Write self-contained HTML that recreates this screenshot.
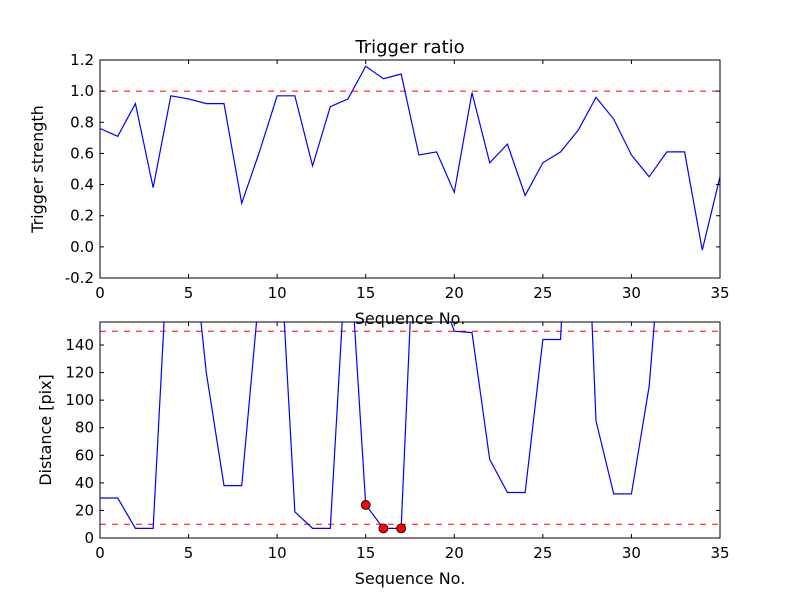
<!DOCTYPE html>
<html><head><meta charset="utf-8">
<style>
body{margin:0;background:#fff;}
svg text{font-family:"DejaVu Sans","Liberation Sans",sans-serif;fill:#000;}
</style></head>
<body>
<svg id="chart" width="800" height="600" viewBox="0 0 800 600" xmlns="http://www.w3.org/2000/svg">
<rect width="800" height="600" fill="#fff"/>
<defs>
<clipPath id="clipTop"><rect x="100" y="60" width="620" height="218"/></clipPath>
<clipPath id="clipBot"><rect x="100" y="322" width="620" height="216"/></clipPath>
</defs>
<g id="top"></g>
<g id="bot"></g>
</svg>
<script>
const seqTop = [0,1,2,3,4,5,6,7,8,9,10,11,12,13,14,15,16,17,18,19,20,21,22,23,24,25,26,27,28,29,30,31,32,33,34,35];
const strength = [0.76,0.71,0.92,0.38,0.97,0.95,0.92,0.92,0.28,0.61,0.97,0.97,0.52,0.90,0.95,1.16,1.08,1.11,0.59,0.61,0.35,0.99,0.54,0.66,0.33,0.54,0.61,0.75,0.96,0.82,0.59,0.45,0.61,0.61,-0.02,0.45];
const distance = [29,29,7,7,250,243,120,38,38,180,250,19,7,7,230,24,7,7,300,185,150,149,57,33,33,144,144,400,85,32,32,110,267,300,300,300];
const markedSeq = [15,16,17];
const markedDist = [24,7,7];
const xTicks = [0,5,10,15,20,25,30,35];
const topYTicks = [-0.2,0.0,0.2,0.4,0.6,0.8,1.0,1.2];
const botYTicks = [0,20,40,60,80,100,120,140];
const topThreshold = [1.0];
const botThresholds = [10,150];

const NS="http://www.w3.org/2000/svg";
function mk(parent,tag,attrs,text){const e=document.createElementNS(NS,tag);for(const k in attrs)e.setAttribute(k,attrs[k]);if(text!==undefined)e.textContent=text;parent.appendChild(e);return e;}
const L=100,R=720;
const xs=v=>L+(v-0)/(35-0)*(R-L);
function axes(g,top,bottom,ymin,ymax,yticks,fmt,clip,ylabel,title,name){
  const ys=v=>bottom-(v-ymin)/(ymax-ymin)*(bottom-top);
  return {ys,draw(){
    const frame=mk(g,'rect',{x:L,y:top,width:R-L,height:bottom-top,fill:'none',stroke:'#000','stroke-width':1});
    
    
    xTicks.forEach(t=>{const x=xs(t);
      mk(g,'line',{x1:x,x2:x,y1:bottom,y2:bottom-4,stroke:'#000'});
      mk(g,'line',{x1:x,x2:x,y1:top,y2:top+4,stroke:'#000'});
      const tl=mk(g,'text',{x:x,y:bottom+20,'text-anchor':'middle','font-size':15},String(t));
      
      
    });
    yticks.forEach(t=>{const y=ys(t);
      mk(g,'line',{x1:L,x2:L+4,y1:y,y2:y,stroke:'#000'});
      mk(g,'line',{x1:R,x2:R-4,y1:y,y2:y,stroke:'#000'});
      const tl=mk(g,'text',{x:L-6,y:y+5,'text-anchor':'end','font-size':15},fmt(t));
      
      
    });
    const xl=mk(g,'text',{x:(L+R)/2,y:bottom+46,'text-anchor':'middle','font-size':16},'Sequence No.');
    
    
    const cy=(top+bottom)/2, lx=name==='top'?43:51;
    const yl=mk(g,'text',{x:lx,y:cy,'text-anchor':'middle','font-size':16,transform:`rotate(-90 ${lx} ${cy})`},ylabel);
    
    
    if(title){const tt=mk(g,'text',{x:(L+R)/2,y:top-7,'text-anchor':'middle','font-size':18},title);
      
      }
  }};
}
// Top
const gT=document.getElementById('top');
const aT=axes(gT,60,278,-0.2,1.2,topYTicks,v=>v.toFixed(1),'clipTop','Trigger strength','Trigger ratio','top');
const cT=mk(gT,'g',{'clip-path':'url(#clipTop)'});
topThreshold.forEach(v=>{const l=mk(cT,'line',{x1:L,x2:R,y1:aT.ys(v),y2:aT.ys(v),stroke:'#f00','stroke-dasharray':'6,6'});
  
  });
const pT=mk(cT,'polyline',{points:seqTop.map((s,i)=>xs(s)+','+aT.ys(strength[i])).join(' '),fill:'none',stroke:'#00f','stroke-width':1.2});


aT.draw();
// Bottom
const gB=document.getElementById('bot');
const aB=axes(gB,322,538,0,156.7,botYTicks,v=>String(v),'clipBot','Distance [pix]',null,'bottom');
const cB=mk(gB,'g',{'clip-path':'url(#clipBot)'});
botThresholds.forEach(v=>{const l=mk(cB,'line',{x1:L,x2:R,y1:aB.ys(v),y2:aB.ys(v),stroke:'#f00','stroke-dasharray':'6,6'});
  
  });
const pB=mk(cB,'polyline',{points:seqTop.map((s,i)=>xs(s)+','+aB.ys(distance[i])).join(' '),fill:'none',stroke:'#00f','stroke-width':1.2});


markedSeq.forEach((s,i)=>{const c=mk(gB,'circle',{cx:xs(s),cy:aB.ys(markedDist[i]),r:4.5,fill:'#f00',stroke:'#000','stroke-width':0.8});
  
  });
aB.draw();
</script>
</body></html>
